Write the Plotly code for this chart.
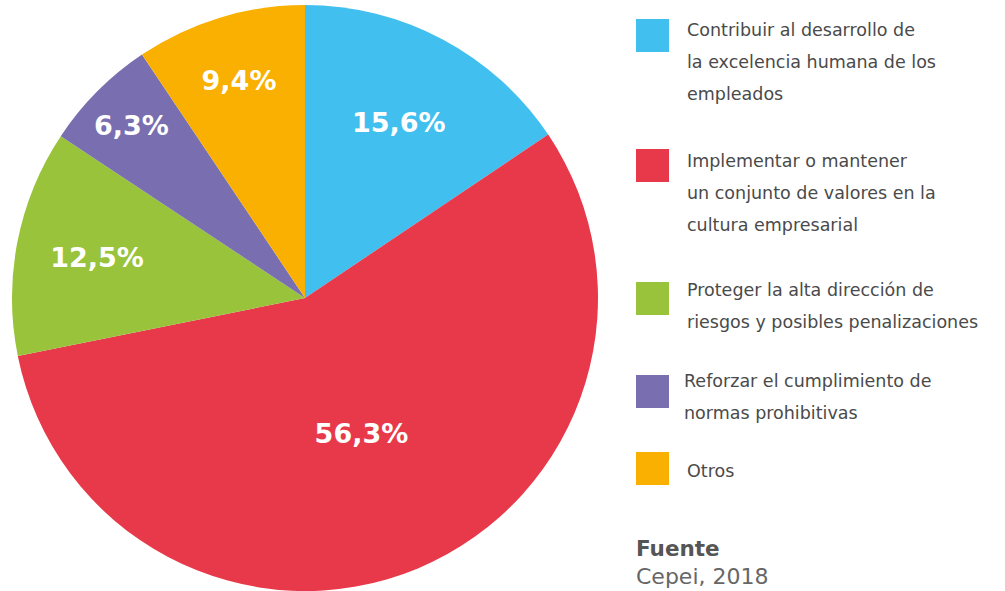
import plotly.graph_objects as go

categories = [
    "Contribuir al desarrollo de la excelencia humana de los empleados",
    "Implementar o mantener un conjunto de valores en la cultura empresarial",
    "Proteger la alta dirección de riesgos y posibles penalizaciones",
    "Reforzar el cumplimiento de normas prohibitivas",
    "Otros",
]
legend_lines = [
    ["Contribuir al desarrollo de", "la excelencia humana de los", "empleados"],
    ["Implementar o mantener", "un conjunto de valores en la", "cultura empresarial"],
    ["Proteger la alta dirección de", "riesgos y posibles penalizaciones"],
    ["Reforzar el cumplimiento de", "normas prohibitivas"],
    ["Otros"],
]
values = [15.6, 56.3, 12.5, 6.3, 9.4]
labels_text = ["15,6%", "56,3%", "12,5%", "6,3%", "9,4%"]
colors = ["#41bfee", "#e8394a", "#98c33a", "#786eb0", "#f9b000"]

W, H = 1005, 591
FONT = "DejaVu Sans"

fig = go.Figure(
    go.Pie(
        labels=categories,
        values=values,
        text=labels_text,
        texttemplate="<b>%{text}</b>",
        textposition="inside",
        insidetextorientation="horizontal",
        textfont=dict(family=FONT, size=27, color="white"),
        marker=dict(colors=colors, line=dict(width=0)),
        sort=False,
        direction="clockwise",
        rotation=0,
        domain=dict(x=[12 / W, 598 / W], y=[0, 586 / H]),
        showlegend=False,
        hoverinfo="label+percent",
    )
)

# legend drawn on the right: square + wrapped lines
square_tops = [19, 149, 282, 375, 452]
text_tops = [30, 161, 290, 381, 471]
text_x = [685, 685, 685, 682, 685]
shapes = []
annotations = []
for i, color in enumerate(colors):
    y0 = square_tops[i]
    shapes.append(dict(
        type="rect", xref="paper", yref="paper",
        x0=636 / W, x1=669 / W, y0=1 - (y0 + 33) / H, y1=1 - y0 / H,
        fillcolor=color, line=dict(width=0),
    ))
    for j, line in enumerate(legend_lines[i]):
        yc = text_tops[i] + 32 * j
        annotations.append(dict(
            text=line, xref="paper", yref="paper",
            x=text_x[i] / W, y=1 - yc / H, xanchor="left", yanchor="middle",
            showarrow=False, font=dict(family=FONT, size=17.5, color="#4a4a4a"),
        ))

annotations.append(dict(
    text="<b>Fuente</b>", xref="paper", yref="paper",
    x=634 / W, y=1 - 548 / H, xanchor="left", yanchor="middle",
    showarrow=False, font=dict(family=FONT, size=21.5, color="#555555"),
))
annotations.append(dict(
    text="Cepei, 2018", xref="paper", yref="paper",
    x=634 / W, y=1 - 576 / H, xanchor="left", yanchor="middle",
    showarrow=False, font=dict(family=FONT, size=22, color="#666666"),
))

fig.update_layout(
    width=W,
    height=H,
    margin=dict(l=0, r=0, t=0, b=0),
    paper_bgcolor="white",
    plot_bgcolor="white",
    shapes=shapes,
    annotations=annotations,
)

fig.write_html(
    "out.html",
    config={"displayModeBar": False},
    post_script="document.body.style.margin='0';",
)
